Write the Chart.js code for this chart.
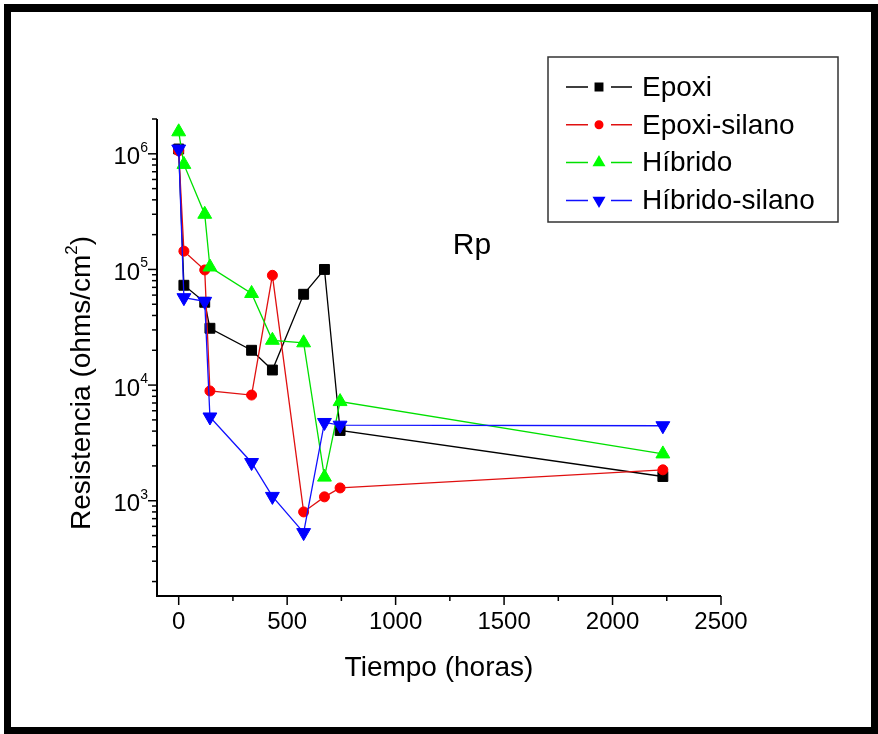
<!DOCTYPE html>
<html>
<head>
<meta charset="utf-8">
<script src="https://cdn.jsdelivr.net/npm/chart.js@4/dist/chart.umd.min.js"></script>
<style>
  html, body { margin: 0; padding: 0; background: #fff; }
  #wrap { width: 878px; height: 734px; }
</style>
</head>
<body>
<div id="wrap"><canvas id="rpChart" width="878" height="734"></canvas></div>
<script>
// Tiempo de inmersión (horas)
const horas = [0, 24, 120, 144, 336, 432, 576, 672, 744, 2232];

// Resistencia de polarización Rp (ohms/cm2)
const epoxi = [1.1e6, 7.3e4, 5.2e4, 3.1e4, 2.0e4, 1.35e4, 6.1e4, 1.0e5, 4.05e3, 1.62e3];
const epoxiSilano = [1.06e6, 1.44e5, 9.9e4, 8.9e3, 8.2e3, 8.9e4, 8.0e2, 1.08e3, 1.29e3, 1.85e3];
const hibrido = [1.55e6, 8.1e5, 3.0e5, 1.05e5, 6.2e4, 2.44e4, 2.32e4, 1.6e3, 7.2e3, 2.54e3];
const hibridoSilano = [1.1e6, 5.7e4, 5.3e4, 5.3e3, 2.14e3, 1.09e3, 5.3e2, 4.75e3, 4.5e3, 4.45e3];

const nombres = ['Epoxi', 'Epoxi-silano', 'Híbrido', 'Híbrido-silano'];
const xTicks = [0, 500, 1000, 1500, 2000, 2500];
const yTicks = [1e3, 1e4, 1e5, 1e6];

const FONT = '"Liberation Sans", Arial, sans-serif';

const series = [
  { data: epoxi, line: '#000000', fill: '#000000', style: 'rect', r: 7, rot: 0 },
  { data: epoxiSilano, line: '#e01010', fill: '#ff0000', style: 'circle', r: 5, rot: 0 },
  { data: hibrido, line: '#00e000', fill: '#00ff00', style: 'triangle', r: 8, rot: 0 },
  { data: hibridoSilano, line: '#1010ff', fill: '#0000ff', style: 'triangle', r: 8, rot: 180 },
];

const datasets = series.map((s, i) => ({
  label: nombres[i],
  data: horas.map((h, j) => ({ x: h, y: s.data[j] })),
  borderColor: s.line,
  borderWidth: 1.3,
  backgroundColor: s.fill,
  pointBackgroundColor: s.fill,
  pointBorderColor: s.fill,
  pointBorderWidth: 1,
  pointStyle: s.style,
  pointRadius: s.r,
  pointRotation: s.rot,
  tension: 0,
  order: 3 - i,
}));

function drawMarker(ctx, s, x, y) {
  Chart.helpers.drawPoint(ctx, { pointStyle: s.style, radius: s.r * 0.75, rotation: s.rot, borderWidth: 1 }, x, y);
}

// marco, ejes, etiquetas y leyenda
const decoracion = {
  id: 'decoracion',
  beforeDraw(chart) {
    const ctx = chart.ctx;
    ctx.save();
    ctx.fillStyle = '#ffffff';
    ctx.fillRect(0, 0, chart.width, chart.height);
    ctx.fillStyle = '#000000';
    ctx.fillRect(4, 4, 874, 8);
    ctx.fillRect(4, 4, 7, 730);
    ctx.fillRect(871, 4, 7, 730);
    ctx.fillRect(4, 727, 874, 7);
    ctx.restore();
  },
  afterDraw(chart) {
    const ctx = chart.ctx;
    const xs = chart.scales.x;
    const ys = chart.scales.y;
    const area = chart.chartArea;
    ctx.save();
    ctx.strokeStyle = '#000';
    ctx.fillStyle = '#000';

    // líneas de los ejes
    ctx.lineWidth = 2;
    ctx.beginPath();
    ctx.moveTo(area.left, area.top);
    ctx.lineTo(area.left, area.bottom);
    ctx.lineTo(area.right, area.bottom);
    ctx.stroke();

    // marcas del eje x
    ctx.lineWidth = 1.5;
    for (let v = 0; v <= 2500; v += 250) {
      const px = xs.getPixelForValue(v);
      const len = v % 500 === 0 ? 9 : 5;
      ctx.beginPath();
      ctx.moveTo(px, area.bottom);
      ctx.lineTo(px, area.bottom + len);
      ctx.stroke();
    }
    // marcas del eje y (logarítmico)
    for (let e = 2; e <= 6; e++) {
      for (let m = 1; m <= 9; m++) {
        const v = m * Math.pow(10, e);
        if (v < ys.min || v > ys.max) continue;
        const py = ys.getPixelForValue(v);
        const len = m === 1 ? 9 : 5;
        ctx.beginPath();
        ctx.moveTo(area.left - len, py);
        ctx.lineTo(area.left, py);
        ctx.stroke();
      }
    }

    // etiquetas de x
    ctx.font = '24px ' + FONT;
    ctx.textAlign = 'center';
    ctx.textBaseline = 'middle';
    xTicks.forEach(v => ctx.fillText(String(v), xs.getPixelForValue(v), area.bottom + 26));

    // etiquetas de y: 10 con exponente
    yTicks.forEach(v => {
      const py = ys.getPixelForValue(v);
      const exp = String(Math.round(Math.log10(v)));
      ctx.font = '14px ' + FONT;
      const wExp = ctx.measureText(exp).width;
      ctx.textAlign = 'left';
      ctx.textBaseline = 'middle';
      const right = area.left - 9;
      ctx.fillText(exp, right - wExp, py - 6);
      ctx.font = '24px ' + FONT;
      ctx.textAlign = 'right';
      ctx.fillText('10', right - wExp, py + 4);
    });

    // título del eje x
    ctx.font = '28px ' + FONT;
    ctx.textAlign = 'center';
    ctx.textBaseline = 'middle';
    ctx.fillText('Tiempo (horas)', 439, 668);

    // título del eje y con superíndice
    ctx.save();
    ctx.translate(82, 383);
    ctx.rotate(-Math.PI / 2);
    const partA = 'Resistencia (ohms/cm';
    const partB = ')';
    ctx.font = '28px ' + FONT;
    const wA = ctx.measureText(partA).width;
    const wB = ctx.measureText(partB).width;
    ctx.font = '17px ' + FONT;
    const wSup = ctx.measureText('2').width;
    const total = wA + wSup + wB;
    let cx = -total / 2;
    ctx.textAlign = 'left';
    ctx.textBaseline = 'middle';
    ctx.font = '28px ' + FONT;
    ctx.fillText(partA, cx, 0);
    cx += wA;
    ctx.font = '17px ' + FONT;
    ctx.fillText('2', cx, -10);
    cx += wSup;
    ctx.font = '28px ' + FONT;
    ctx.fillText(partB, cx, 0);
    ctx.restore();

    // etiqueta Rp
    ctx.font = '30px ' + FONT;
    ctx.textAlign = 'center';
    ctx.textBaseline = 'middle';
    ctx.fillText('Rp', 472, 246);

    // leyenda
    ctx.strokeStyle = '#333';
    ctx.lineWidth = 1.5;
    ctx.strokeRect(548, 57, 290, 165);
    series.forEach((s, i) => {
      const y = 87 + i * 37.8;
      ctx.strokeStyle = s.line;
      ctx.lineWidth = 1.5;
      ctx.beginPath();
      ctx.moveTo(566, y);
      ctx.lineTo(588, y);
      ctx.moveTo(611, y);
      ctx.lineTo(632, y);
      ctx.stroke();
      ctx.fillStyle = s.fill;
      ctx.strokeStyle = s.fill;
      drawMarker(ctx, s, 599, y);
      ctx.fillStyle = '#000';
      ctx.font = '28px ' + FONT;
      ctx.textAlign = 'left';
      ctx.textBaseline = 'middle';
      ctx.fillText(nombres[i], 642, y + 1);
    });
    ctx.restore();
  }
};

const ctx = document.getElementById('rpChart').getContext('2d');
new Chart(ctx, {
  type: 'line',
  data: { datasets },
  options: {
    responsive: false,
    animation: false,
    devicePixelRatio: 1,
    clip: false,
    layout: { padding: { left: 157, top: 119, right: 157, bottom: 138 } },
    plugins: { legend: { display: false }, tooltip: { enabled: false } },
    scales: {
      x: { type: 'linear', display: false, min: -100, max: 2500 },
      y: { type: 'logarithmic', display: false, min: 150, max: 2e6 },
    },
  },
  plugins: [decoracion],
});
</script>
</body>
</html>
